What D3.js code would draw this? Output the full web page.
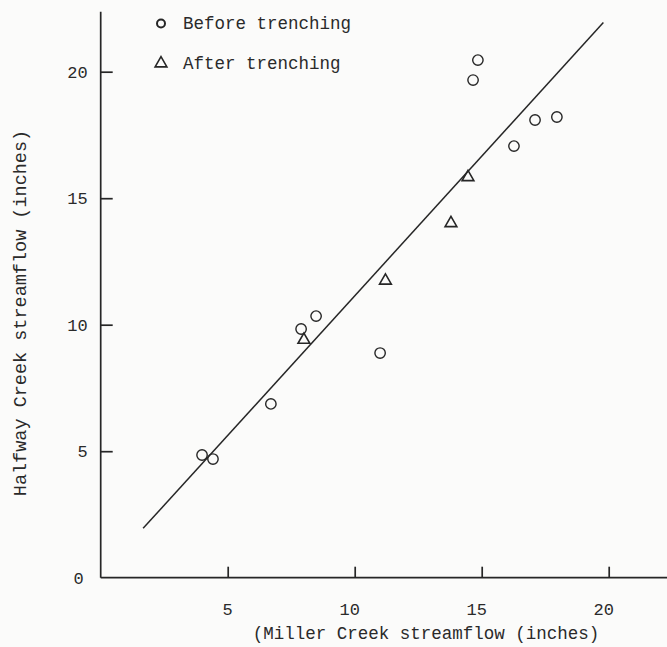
<!DOCTYPE html>
<html>
<head>
<meta charset="utf-8">
<script src="https://cdn.jsdelivr.net/npm/d3@7"></script>
<style>
  html, body { margin: 0; padding: 0; background: #fbfbfa; }
  svg { display: block; }
  text { font-family: "Liberation Mono", "DejaVu Sans Mono", monospace; fill: #2a2a2a; }
</style>
</head>
<body>
<div id="chart"></div>
<script>

// --- Data (inches of streamflow)
var beforeMiller  = [3.99, 4.42, 6.70, 7.89, 8.48, 11.00, 14.66, 14.85, 16.27, 17.10, 17.96];
var beforeHalfway = [4.85, 4.69, 6.87, 9.83, 10.34, 8.88, 19.67, 20.46, 17.06, 18.09, 18.21];
var afterMiller   = [8.00, 11.21, 13.79, 14.46];
var afterHalfway  = [9.40, 11.74, 14.01, 15.83];
var fitMiller     = [1.67, 19.79];
var fitHalfway    = [1.95, 21.94];
var xTicks = [5, 10, 15, 20];
var yTicks = [0, 5, 10, 15, 20];
var legendLabels = ['Before trenching', 'After trenching'];
var xTitle = '(Miller Creek streamflow (inches)';
var yTitle = 'Halfway Creek streamflow (inches)';

var width = 667;
var height = 647;
var left = 100.7;
var bottom = 577.7;
var ink = '#262626';

var x = d3.scaleLinear().domain([0, 22.3]).range([left, left + 22.3 * 25.4]);
var y = d3.scaleLinear().domain([0, 22.37]).range([bottom, bottom - 22.37 * 25.3]);

var svg = d3.select('#chart')
  .append('svg')
  .attr('width', width)
  .attr('height', height);

// --- Axes
var xAxis = svg.append('g')
  .attr('transform', 'translate(0,' + bottom + ')')
  .call(d3.axisTop(x).tickValues(xTicks).tickSize(11).tickFormat(''));
xAxis.select('.domain').attr('d', 'M' + left + ',0H' + width);

var yAxis = svg.append('g')
  .attr('transform', 'translate(' + left + ',0)')
  .call(d3.axisRight(y).tickValues(yTicks.slice(1)).tickSize(12).tickFormat(''));
yAxis.select('.domain').attr('d', 'M0,' + y(22.37) + 'V' + bottom);

svg.selectAll('.domain, .tick line')
  .attr('stroke', ink)
  .attr('stroke-width', 1.7);

// --- Tick labels
svg.selectAll('.xlab').data(xTicks).enter()
  .append('text')
  .attr('class', 'xlab')
  .attr('x', function(d) { return x(d) - (d >= 10 ? 5 : 0); })
  .attr('y', bottom + 37)
  .attr('text-anchor', 'middle')
  .style('font-size', '17px')
  .text(function(d) { return d; });

svg.selectAll('.ylab').data(yTicks).enter()
  .append('text')
  .attr('class', 'ylab')
  .attr('x', function(d) { return d === 0 ? left - 17 : left - 13; })
  .attr('y', function(d) { return y(d); })
  .attr('dy', '0.35em')
  .attr('text-anchor', 'end')
  .style('font-size', '17px')
  .text(function(d) { return d; });

// --- Titles
svg.append('text')
  .attr('x', 426)
  .attr('y', 639)
  .attr('text-anchor', 'middle')
  .style('font-size', '17.5px')
  .text(xTitle);

svg.append('text')
  .attr('transform', 'translate(26,313) rotate(-90)')
  .attr('text-anchor', 'middle')
  .style('font-size', '18.5px')
  .text(yTitle);

// --- Fitted line
var line = d3.line()
  .x(function(d) { return x(d[0]); })
  .y(function(d) { return y(d[1]); });

svg.append('path')
  .datum(d3.zip(fitMiller, fitHalfway))
  .attr('d', line)
  .attr('fill', 'none')
  .attr('stroke', ink)
  .attr('stroke-width', 1.5);

// --- Points
var circleSym = d3.symbol().type(d3.symbolCircle).size(Math.PI * 5.2 * 5.2);
var triSym = d3.symbol().type(d3.symbolTriangle).size(60);

svg.selectAll('.before').data(d3.zip(beforeMiller, beforeHalfway)).enter()
  .append('path')
  .attr('class', 'before')
  .attr('d', circleSym)
  .attr('transform', function(d) { return 'translate(' + x(d[0]) + ',' + y(d[1]) + ')'; })
  .attr('fill', 'none')
  .attr('stroke', ink)
  .attr('stroke-width', 1.4);

svg.selectAll('.after').data(d3.zip(afterMiller, afterHalfway)).enter()
  .append('path')
  .attr('class', 'after')
  .attr('d', triSym)
  .attr('transform', function(d) { return 'translate(' + x(d[0]) + ',' + y(d[1]) + ')'; })
  .attr('fill', 'none')
  .attr('stroke', ink)
  .attr('stroke-width', 1.6);

// --- Legend
var legend = svg.selectAll('.legend').data(legendLabels).enter()
  .append('g')
  .attr('class', 'legend')
  .attr('transform', function(d, i) { return 'translate(161,' + (23.5 + i * 40) + ')'; });

legend.append('path')
  .attr('d', function(d, i) { return i === 0 ? d3.symbol().type(d3.symbolCircle).size(Math.PI * 16)() : triSym(); })
  .attr('fill', 'none')
  .attr('stroke', ink)
  .attr('stroke-width', function(d, i) { return i === 0 ? 2 : 1.6; });

legend.append('text')
  .attr('x', 22)
  .attr('y', 5.5)
  .style('font-size', '17.5px')
  .text(function(d) { return d; });

</script>
</body>
</html>
